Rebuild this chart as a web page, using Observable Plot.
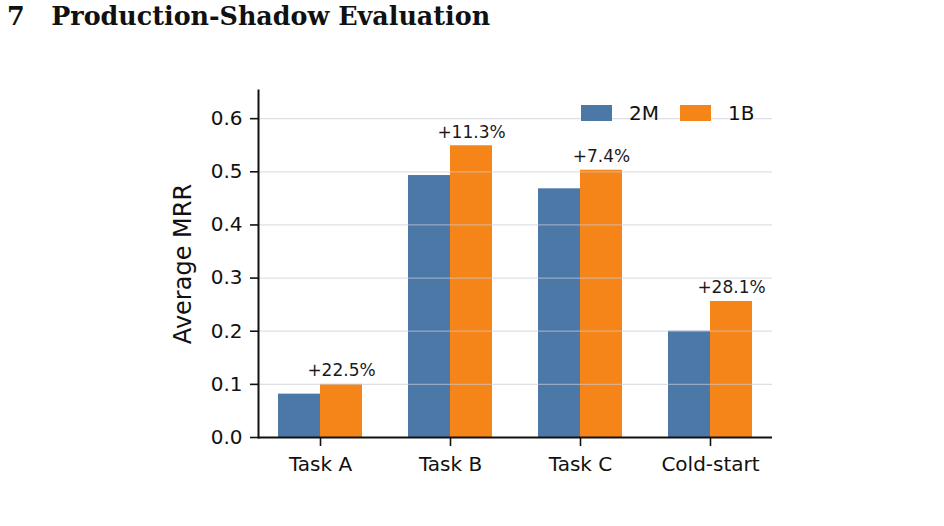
<!DOCTYPE html>
<html>
<head>
<meta charset="utf-8">
<script src="https://cdn.jsdelivr.net/npm/d3@7"></script>
<script src="https://cdn.jsdelivr.net/npm/@observablehq/plot@0.6"></script>
<style>
  html, body { margin: 0; padding: 0; background: #fff; }
  #wrap { position: relative; width: 944px; height: 526px; overflow: hidden; }
  #title { position: absolute; left: 7px; top: 1px; font-family: "DejaVu Serif", serif; font-weight: bold; font-size: 25.4px; color: #111; white-space: pre; }
  #legend { position: absolute; left: 581px; top: 101px; font-family: "DejaVu Sans", sans-serif; font-size: 20px; color: #111; display: flex; align-items: center; }
  .sw { width: 31px; height: 16px; display: inline-block; }
  .lab { margin-left: 17px; margin-right: 21px; }
</style>
</head>
<body>
<div id="wrap">
  <div id="title">7   Production-Shadow Evaluation</div>
  <div id="chart"></div>
  <div id="legend"></div>
</div>
<script>
const categories = ["Task A", "Task B", "Task C", "Cold-start"];
const series = ["2M", "1B"];
const values2M = [0.0816, 0.493, 0.468, 0.200];
const values1B = [0.100, 0.549, 0.503, 0.256];
const gains = ["+22.5%", "+11.3%", "+7.4%", "+28.1%"];
const yTicks = [0, 0.1, 0.2, 0.3, 0.4, 0.5, 0.6];
const colors = ["#4c78a8", "#f58518"];

const d2M = categories.map((c, i) => ({cat: c, v: values2M[i]}));
const d1B = categories.map((c, i) => ({cat: c, v: values1B[i], gain: gains[i]}));

const half = 21;
const font = "DejaVu Sans, sans-serif";

const chart = Plot.plot({
  width: 944,
  height: 526,
  marginLeft: 258,
  marginRight: 172,
  marginTop: 90,
  marginBottom: 89,
  style: {fontFamily: font, fontSize: "20px", color: "#111", background: "white"},
  x: {domain: categories, paddingInner: 0.678, paddingOuter: 0.314, label: null},
  y: {domain: [0, 0.653], label: null},
  marks: [
    Plot.barY(d2M, {x: "cat", y: "v", fill: colors[0], dx: -half}),
    Plot.barY(d1B, {x: "cat", y: "v", fill: colors[1], dx: half}),
    Plot.ruleY(yTicks.slice(1), {stroke: "#c9ccd6", strokeOpacity: 0.6, strokeWidth: 1.2}),
    Plot.text(d1B, {x: "cat", y: "v", text: "gain", dx: half, dy: -8, lineAnchor: "bottom", fontSize: 17, fill: "#1a1a1a"}),
    Plot.axisY({ticks: yTicks, tickFormat: d3.format(".1f"), tickSize: 8, tickPadding: 8, fontSize: 20, strokeWidth: 1.6, stroke: "#111", label: null}),
    Plot.axisX({tickSize: 9, tickPadding: 10, fontSize: 20, strokeWidth: 1.6, stroke: "#111", label: null}),
    Plot.frame({anchor: "left", stroke: "#111", strokeWidth: 2}),
    Plot.ruleY([0], {stroke: "#111", strokeWidth: 2}),
    Plot.text(["Average MRR"], {frameAnchor: "left", textAnchor: "middle", dx: -75, rotate: -90, fontSize: 24, fill: "#111"})
  ]
});
document.getElementById("chart").appendChild(chart);

const leg = document.getElementById("legend");
series.forEach((s, i) => {
  const sw = document.createElement("span");
  sw.className = "sw";
  sw.style.background = colors[i];
  const lb = document.createElement("span");
  lb.className = "lab";
  lb.textContent = s;
  leg.appendChild(sw);
  leg.appendChild(lb);
});
</script>
</body>
</html>
